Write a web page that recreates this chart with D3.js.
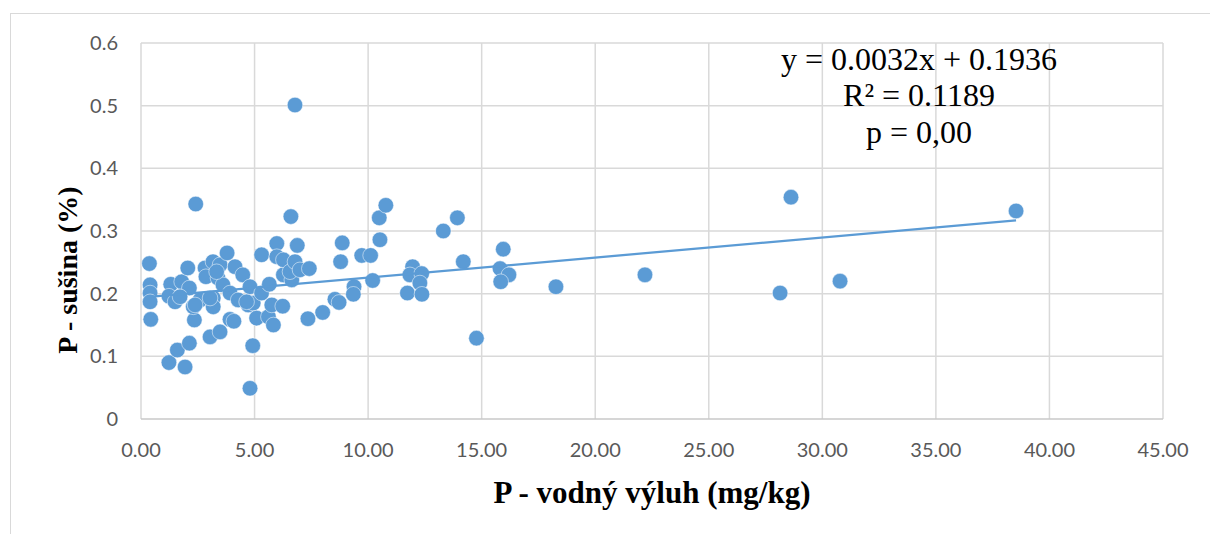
<!DOCTYPE html>
<html>
<head>
<meta charset="utf-8">
<script src="https://cdnjs.cloudflare.com/ajax/libs/d3/7.8.5/d3.min.js"></script>
<style>
  body { margin: 0; background: #ffffff; }
</style>
</head>
<body>
<svg id="chart" width="1210" height="534"></svg>
<script>
var xValues = [
  0.37, 0.40, 0.40, 0.40, 0.43, 1.23, 1.31, 1.23, 1.50, 1.60,
  1.94, 1.79, 2.13, 2.06, 2.13, 2.41, 2.35, 2.30, 2.60, 1.72,
  2.82, 2.86, 3.18, 3.18, 3.04, 3.17, 3.39, 3.48, 3.48, 3.61,
  3.92, 3.79, 3.92, 4.09, 4.14, 4.28, 4.48, 4.80, 4.72, 4.94,
  4.80, 4.92, 5.09, 5.31, 5.31, 5.65, 5.61, 5.76, 5.83, 5.98,
  5.98, 6.24, 6.27, 6.27, 6.60, 6.64, 6.56, 6.78, 6.88, 6.78,
  7.00, 7.41, 7.35, 8.00, 8.54, 8.72, 8.79, 8.86, 9.38, 9.35,
  9.72, 10.11, 10.20, 10.49, 10.52, 10.78, 11.73, 11.96, 11.84, 12.36,
  12.28, 12.37, 13.31, 13.93, 14.19, 14.77, 15.95, 15.81, 16.20, 15.84,
  18.27, 22.19, 28.14, 28.62, 30.78, 38.53, 3.33, 2.38, 3.04, 4.65
];
var yValues = [
  0.248, 0.214, 0.201, 0.187, 0.159, 0.090, 0.215, 0.196, 0.187, 0.110,
  0.083, 0.219, 0.209, 0.241, 0.121, 0.343, 0.158, 0.179, 0.190, 0.195,
  0.241, 0.227, 0.193, 0.179, 0.131, 0.251, 0.225, 0.246, 0.139, 0.214,
  0.201, 0.265, 0.159, 0.156, 0.243, 0.190, 0.230, 0.211, 0.182, 0.185,
  0.049, 0.117, 0.161, 0.201, 0.262, 0.215, 0.163, 0.182, 0.150, 0.280,
  0.259, 0.180, 0.230, 0.254, 0.323, 0.222, 0.235, 0.501, 0.277, 0.251,
  0.238, 0.240, 0.160, 0.170, 0.191, 0.186, 0.251, 0.281, 0.211, 0.199,
  0.261, 0.261, 0.221, 0.321, 0.286, 0.341, 0.201, 0.243, 0.230, 0.232,
  0.217, 0.199, 0.300, 0.321, 0.251, 0.129, 0.271, 0.240, 0.230, 0.219,
  0.211, 0.230, 0.201, 0.354, 0.220, 0.332, 0.235, 0.182, 0.193, 0.187
];
var xTicks = [0, 5, 10, 15, 20, 25, 30, 35, 40, 45];
var yTicks = [0, 0.1, 0.2, 0.3, 0.4, 0.5, 0.6];
var slope = 0.0032;
var intercept = 0.1936;
var statLines = ['y = 0.0032x + 0.1936', 'R\u00b2 = 0.1189', 'p = 0,00'];
var xTitle = 'P - vodný výluh (mg/kg)';
var yTitle = 'P - sušina (%)';

var svg = d3.select('#chart');
var width = +svg.attr('width');
var height = +svg.attr('height');

var points = xValues.map(function(d, i) {
  return { x: d, y: yValues[i] };
});

var x = d3.scaleLinear().domain([0, 45]).range([141, 1163]);
var y = d3.scaleLinear().domain([0, 0.6]).range([419, 43]);

// chart area border (only left and top edges are visible)
svg.append('rect')
  .attr('x', 10.5)
  .attr('y', 13.5)
  .attr('width', width + 20)
  .attr('height', height + 20)
  .style('fill', '#ffffff')
  .style('stroke', '#d9d9d9');

svg.selectAll('.grid-x')
  .data(xTicks)
  .enter()
  .append('line')
  .attr('class', 'grid-x')
  .attr('x1', function(d) { return x(d); })
  .attr('x2', function(d) { return x(d); })
  .attr('y1', y(0.6))
  .attr('y2', y(0))
  .style('stroke', '#d9d9d9')
  .style('stroke-width', 1.5);

svg.selectAll('.grid-y')
  .data(yTicks)
  .enter()
  .append('line')
  .attr('class', 'grid-y')
  .attr('x1', x(0))
  .attr('x2', x(45))
  .attr('y1', function(d) { return y(d); })
  .attr('y2', function(d) { return y(d); })
  .style('stroke', function(d) { return d === 0 ? '#c8c8c8' : '#d9d9d9'; })
  .style('stroke-width', 1.5);

svg.selectAll('.x-tick')
  .data(xTicks)
  .enter()
  .append('text')
  .attr('class', 'x-tick')
  .attr('x', function(d) { return x(d); })
  .attr('y', 457)
  .style('text-anchor', 'middle')
  .style('font-family', 'Lato, sans-serif')
  .style('font-size', '20px')
  .style('fill', '#595959')
  .text(function(d) { return d3.format('.2f')(d); });

svg.selectAll('.y-tick')
  .data(yTicks)
  .enter()
  .append('text')
  .attr('class', 'y-tick')
  .attr('x', 118)
  .attr('y', function(d) { return y(d) + 7; })
  .style('text-anchor', 'end')
  .style('font-family', 'Lato, sans-serif')
  .style('font-size', '20px')
  .style('fill', '#595959')
  .text(function(d) { return d === 0 ? '0' : d3.format('.1f')(d); });

svg.selectAll('.point')
  .data(points)
  .enter()
  .append('circle')
  .attr('class', 'point')
  .attr('cx', function(d) { return x(d.x); })
  .attr('cy', function(d) { return y(d.y); })
  .attr('r', 7.8)
  .style('fill', '#5b9bd5')
  .style('stroke', '#ffffff')
  .style('stroke-width', 0.5);

var xMin = d3.min(xValues);
var xMax = d3.max(xValues);

svg.append('line')
  .attr('class', 'trend')
  .attr('x1', x(xMin))
  .attr('y1', y(slope * xMin + intercept))
  .attr('x2', x(xMax))
  .attr('y2', y(slope * xMax + intercept))
  .style('stroke', '#5b9bd5')
  .style('stroke-width', 2.25);

svg.selectAll('.stat')
  .data(statLines)
  .enter()
  .append('text')
  .attr('class', 'stat')
  .attr('x', 919)
  .attr('y', function(d, i) { return [70, 106, 143][i]; })
  .style('text-anchor', 'middle')
  .style('font-family', '"Liberation Serif", serif')
  .style('font-size', '32px')
  .style('fill', '#000000')
  .text(function(d) { return d; });

svg.append('text')
  .attr('class', 'x-title')
  .attr('x', 652)
  .attr('y', 503)
  .style('text-anchor', 'middle')
  .style('font-family', '"Liberation Serif", serif')
  .style('font-weight', 'bold')
  .style('font-size', '31px')
  .style('fill', '#000000')
  .text(xTitle);

svg.append('text')
  .attr('class', 'y-title')
  .attr('transform', 'translate(77,' + 270 + ') rotate(-90)')
  .style('text-anchor', 'middle')
  .style('font-family', '"Liberation Serif", serif')
  .style('font-weight', 'bold')
  .style('font-size', '28px')
  .style('fill', '#000000')
  .text(yTitle);
</script>
</body>
</html>
